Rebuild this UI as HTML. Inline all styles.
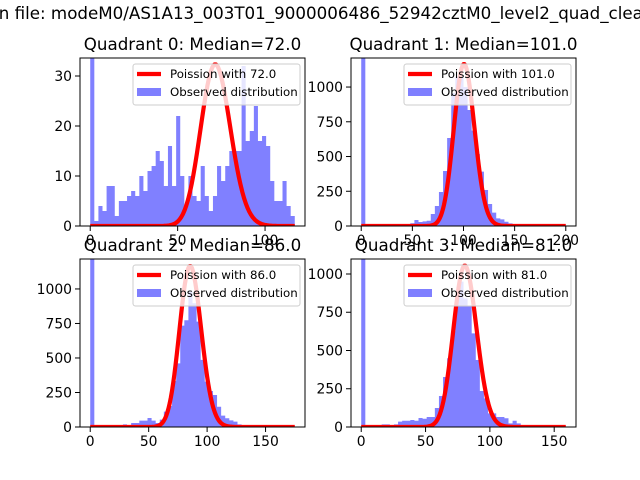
<!DOCTYPE html>
<html><head><meta charset="utf-8"><style>
body{margin:0;background:#fff}
svg{display:block;font-family:"DejaVu Sans","Liberation Sans",sans-serif}
</style></head><body>
<svg id="fig" width="640" height="480" viewBox="0 0 640 480">
<rect width="640" height="480" fill="#fff"/>
<text x="317" y="19" text-anchor="middle" font-size="16.7">Median file: modeM0/AS1A13_003T01_9000006486_52942cztM0_level2_quad_clean.evt</text>
</svg>
<script>
const q0Counts=[40,1,4,3,8,8,2,5,5,6,7,6,10,7,11,12,15,13,8,16,8,22,10,4,10,6,5,12,6,3,6,12,9,12,15,15,15,32,17,19,24,17,18,16,9,5,5,9,4,2];
const q1Counts=[1300,0,0,0,0,0,0,0,0,0,0,0,20,43,29,33,38,86,144,245,396,633,955,1074,1074,1000,835,686,518,391,259,158,96,55,48,31,19,7,2,2,2,2,2,2,2,2,2,2,2,2];
const q2Counts=[1300,0,0,0,0,0,0,3,19,10,29,29,46,46,65,46,29,53,111,152,333,461,734,773,980,896,763,486,329,261,232,147,82,63,48,39,19,10,5,5,2,2,2,2,2,2,2,2,2,2];
const q3Counts=[1200,3,3,3,3,17,17,9,17,35,41,41,46,41,59,54,65,65,124,203,327,449,627,845,950,841,791,612,438,235,187,89,89,65,65,57,24,41,24,13,4,4,4,4,4,4,4,4,4,4];
const dataMax=[117,200,175,159];
const lambdas=[72,101,86,81];
const peaks=[32.3,1165,1166,1054];
const titles=["Quadrant 0: Median=72.0","Quadrant 1: Median=101.0","Quadrant 2: Median=86.0","Quadrant 3: Median=81.0"];
const xTicks=[[0,50,100],[0,50,100,150,200],[0,50,100,150],[0,50,100,150]];
const yTicks=[[0,10,20,30],[0,250,500,750,1000],[0,250,500,750,1000],[0,250,500,750,1000]];
const yMax=[33.6,1209,1217,1098];
const allCounts=[q0Counts,q1Counts,q2Counts,q3Counts];
const boxes=[[80,58,305,226],[351,58,576,226],[80,259,305,427],[351,259,576,427]];
const NS="http://www.w3.org/2000/svg";
const svg=document.getElementById('fig');
function mk(t,a,p){const e=document.createElementNS(NS,t);for(const k in a)e.setAttribute(k,a[k]);(p||svg).appendChild(e);return e;}
function lpmf(k,l){let lg=0;for(let i=2;i<=k;i++)lg+=Math.log(i);return k*Math.log(l)-l-lg;}
for(let q=0;q<4;q++){
  const [L,T,R,B]=boxes[q];const mx=dataMax[q];const pad=mx*0.05;
  const sx=v=>L+(v+pad)/(mx+2*pad)*(R-L);
  const sy=v=>B-v/yMax[q]*(B-T);
  const g=mk('g',{});
  
  
  const clipId='c'+q;
  const cp=mk('clipPath',{id:clipId},g);mk('rect',{x:L,y:T,width:R-L,height:B-T},cp);
  const plot=mk('g',{'clip-path':'url(#'+clipId+')'},g);
  const c=allCounts[q];const bw=mx/c.length;
  let bd='';
  c.forEach((v,i)=>{
    const x0=sx(i*bw),x1=sx((i+1)*bw);
    bd+='M'+x0.toFixed(2)+' '+B+'V'+sy(v).toFixed(2)+'H'+x1.toFixed(2)+'V'+B+'Z';
  });
  const bars=mk('path',{d:bd,fill:'#8080ff'},plot);
  
  
  const lam=lambdas[q];const ref=lpmf(Math.floor(lam),lam);let d='';
  for(let k=0;k<=Math.round(mx);k++){const v=peaks[q]*Math.exp(lpmf(k,lam)-ref);d+=(k?'L':'M')+sx(k).toFixed(2)+' '+sy(v).toFixed(2);}
  const pl=mk('path',{d:d,fill:'none',stroke:'#ff0000','stroke-width':4.2,'stroke-linejoin':'round'},plot);
  
  
  const fr=mk('rect',{x:L,y:T,width:R-L,height:B-T,fill:'none',stroke:'#000','stroke-width':1},g);
  
  
  xTicks[q].forEach(t=>{const x=sx(t);mk('line',{x1:x,x2:x,y1:B,y2:B+5,stroke:'#000'},g);
    const tx=mk('text',{x:x,y:B+19,'text-anchor':'middle','font-size':13.9},g);tx.textContent=t;
    
    });
  yTicks[q].forEach(t=>{const y=sy(t);mk('line',{x1:L-5,x2:L,y1:y,y2:y,stroke:'#000'},g);
    const tx=mk('text',{x:L-8,y:y+5,'text-anchor':'end','font-size':13.9},g);tx.textContent=t;
    
    });
  const tt=mk('text',{x:(L+R)/2,y:T-8,'text-anchor':'middle','font-size':16.7},g);tt.textContent=titles[q];
  
  
  const lg=mk('g',{},g);
  
  
  const lx=R-172,ly=T+6;
  mk('rect',{x:lx,y:ly,width:167,height:41,rx:2.5,fill:'#fff','fill-opacity':0.8,stroke:'#ccc'},lg);
  mk('line',{x1:lx+4,x2:lx+28,y1:ly+10,y2:ly+10,stroke:'#ff0000','stroke-width':4.2},lg);
  mk('rect',{x:lx+4,y:ly+24,width:24,height:8,fill:'#0000ff','fill-opacity':0.5},lg);
  const t1=mk('text',{x:lx+37,y:ly+14,'font-size':11.8},lg);t1.textContent='Poission with '+lam.toFixed(1);
  
  
  const t2=mk('text',{x:lx+37,y:ly+32,'font-size':11.8},lg);t2.textContent='Observed distribution';
  
  
}
</script>
</body></html>
